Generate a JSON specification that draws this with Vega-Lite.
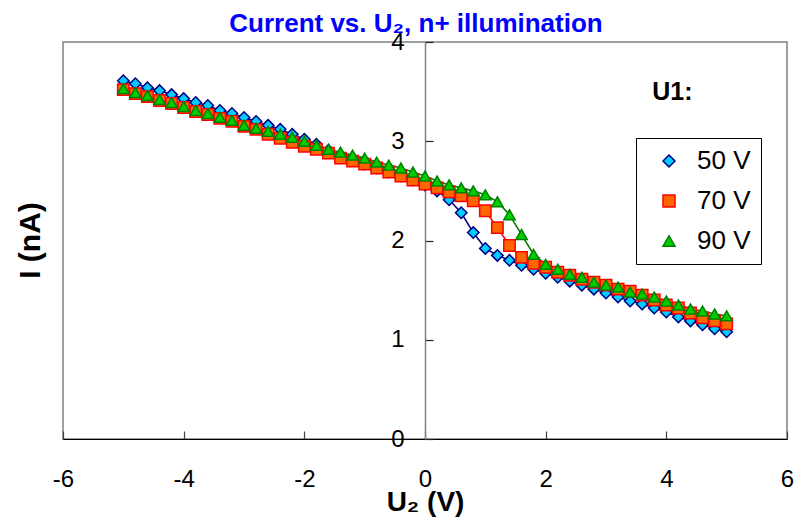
{
  "$schema": "https://vega.github.io/schema/vega-lite/v6.json",
  "width": 724,
  "height": 397,
  "autosize": {"type": "none"},
  "padding": {"left": 63, "top": 42, "right": 10, "bottom": 79},
  "title": {
    "text": "Current vs. U₂, n+ illumination",
    "color": "#0000FF",
    "fontSize": 26,
    "fontWeight": "bold",
    "font": "Liberation Sans",
    "anchor": "middle",
    "frame": "group",
    "offset": -7,
    "dx": -9
  },
  "data": {
    "values": [
      {"u": -5.0, "s": "50 V", "i": 3.61}, {"u": -4.8, "s": "50 V", "i": 3.58}, {"u": -4.6, "s": "50 V", "i": 3.54}, {"u": -4.4, "s": "50 V", "i": 3.51}, {"u": -4.2, "s": "50 V", "i": 3.47}, {"u": -4.0, "s": "50 V", "i": 3.43}, {"u": -3.8, "s": "50 V", "i": 3.39}, {"u": -3.6, "s": "50 V", "i": 3.36}, {"u": -3.4, "s": "50 V", "i": 3.31}, {"u": -3.2, "s": "50 V", "i": 3.28}, {"u": -3.0, "s": "50 V", "i": 3.24}, {"u": -2.8, "s": "50 V", "i": 3.20}, {"u": -2.6, "s": "50 V", "i": 3.16}, {"u": -2.4, "s": "50 V", "i": 3.12}, {"u": -2.2, "s": "50 V", "i": 3.07}, {"u": -2.0, "s": "50 V", "i": 3.02}, {"u": -1.8, "s": "50 V", "i": 2.97}, {"u": -1.6, "s": "50 V", "i": 2.91}, {"u": -1.4, "s": "50 V", "i": 2.85}, {"u": -1.2, "s": "50 V", "i": 2.81}, {"u": -1.0, "s": "50 V", "i": 2.77}, {"u": -0.8, "s": "50 V", "i": 2.73}, {"u": -0.6, "s": "50 V", "i": 2.69}, {"u": -0.4, "s": "50 V", "i": 2.65}, {"u": -0.2, "s": "50 V", "i": 2.61}, {"u": 0.0, "s": "50 V", "i": 2.56},
      {"u": 0.2, "s": "50 V", "i": 2.50}, {"u": 0.4, "s": "50 V", "i": 2.41}, {"u": 0.6, "s": "50 V", "i": 2.28}, {"u": 0.8, "s": "50 V", "i": 2.08}, {"u": 1.0, "s": "50 V", "i": 1.92}, {"u": 1.2, "s": "50 V", "i": 1.85}, {"u": 1.4, "s": "50 V", "i": 1.80}, {"u": 1.6, "s": "50 V", "i": 1.75}, {"u": 1.8, "s": "50 V", "i": 1.71}, {"u": 2.0, "s": "50 V", "i": 1.67}, {"u": 2.2, "s": "50 V", "i": 1.63}, {"u": 2.4, "s": "50 V", "i": 1.59}, {"u": 2.6, "s": "50 V", "i": 1.55}, {"u": 2.8, "s": "50 V", "i": 1.51}, {"u": 3.0, "s": "50 V", "i": 1.47}, {"u": 3.2, "s": "50 V", "i": 1.43}, {"u": 3.4, "s": "50 V", "i": 1.39}, {"u": 3.6, "s": "50 V", "i": 1.36}, {"u": 3.8, "s": "50 V", "i": 1.32}, {"u": 4.0, "s": "50 V", "i": 1.28}, {"u": 4.2, "s": "50 V", "i": 1.23}, {"u": 4.4, "s": "50 V", "i": 1.19}, {"u": 4.6, "s": "50 V", "i": 1.15}, {"u": 4.8, "s": "50 V", "i": 1.11}, {"u": 5.0, "s": "50 V", "i": 1.08},
      {"u": -5.0, "s": "70 V", "i": 3.52}, {"u": -4.8, "s": "70 V", "i": 3.48}, {"u": -4.6, "s": "70 V", "i": 3.45}, {"u": -4.4, "s": "70 V", "i": 3.41}, {"u": -4.2, "s": "70 V", "i": 3.38}, {"u": -4.0, "s": "70 V", "i": 3.34}, {"u": -3.8, "s": "70 V", "i": 3.30}, {"u": -3.6, "s": "70 V", "i": 3.27}, {"u": -3.4, "s": "70 V", "i": 3.23}, {"u": -3.2, "s": "70 V", "i": 3.20}, {"u": -3.0, "s": "70 V", "i": 3.15}, {"u": -2.8, "s": "70 V", "i": 3.12}, {"u": -2.6, "s": "70 V", "i": 3.07}, {"u": -2.4, "s": "70 V", "i": 3.03}, {"u": -2.2, "s": "70 V", "i": 2.99}, {"u": -2.0, "s": "70 V", "i": 2.95}, {"u": -1.8, "s": "70 V", "i": 2.92}, {"u": -1.6, "s": "70 V", "i": 2.88}, {"u": -1.4, "s": "70 V", "i": 2.83}, {"u": -1.2, "s": "70 V", "i": 2.80}, {"u": -1.0, "s": "70 V", "i": 2.77}, {"u": -0.8, "s": "70 V", "i": 2.73}, {"u": -0.6, "s": "70 V", "i": 2.69}, {"u": -0.4, "s": "70 V", "i": 2.65}, {"u": -0.2, "s": "70 V", "i": 2.61}, {"u": 0.0, "s": "70 V", "i": 2.57},
      {"u": 0.2, "s": "70 V", "i": 2.53}, {"u": 0.4, "s": "70 V", "i": 2.49}, {"u": 0.6, "s": "70 V", "i": 2.45}, {"u": 0.8, "s": "70 V", "i": 2.40}, {"u": 1.0, "s": "70 V", "i": 2.30}, {"u": 1.2, "s": "70 V", "i": 2.13}, {"u": 1.4, "s": "70 V", "i": 1.95}, {"u": 1.6, "s": "70 V", "i": 1.83}, {"u": 1.8, "s": "70 V", "i": 1.77}, {"u": 2.0, "s": "70 V", "i": 1.73}, {"u": 2.2, "s": "70 V", "i": 1.68}, {"u": 2.4, "s": "70 V", "i": 1.65}, {"u": 2.6, "s": "70 V", "i": 1.61}, {"u": 2.8, "s": "70 V", "i": 1.58}, {"u": 3.0, "s": "70 V", "i": 1.55}, {"u": 3.2, "s": "70 V", "i": 1.51}, {"u": 3.4, "s": "70 V", "i": 1.49}, {"u": 3.6, "s": "70 V", "i": 1.45}, {"u": 3.8, "s": "70 V", "i": 1.40}, {"u": 4.0, "s": "70 V", "i": 1.35}, {"u": 4.2, "s": "70 V", "i": 1.32}, {"u": 4.4, "s": "70 V", "i": 1.27}, {"u": 4.6, "s": "70 V", "i": 1.22}, {"u": 4.8, "s": "70 V", "i": 1.19}, {"u": 5.0, "s": "70 V", "i": 1.16},
      {"u": -5.0, "s": "90 V", "i": 3.53}, {"u": -4.8, "s": "90 V", "i": 3.49}, {"u": -4.6, "s": "90 V", "i": 3.46}, {"u": -4.4, "s": "90 V", "i": 3.42}, {"u": -4.2, "s": "90 V", "i": 3.39}, {"u": -4.0, "s": "90 V", "i": 3.35}, {"u": -3.8, "s": "90 V", "i": 3.31}, {"u": -3.6, "s": "90 V", "i": 3.28}, {"u": -3.4, "s": "90 V", "i": 3.24}, {"u": -3.2, "s": "90 V", "i": 3.21}, {"u": -3.0, "s": "90 V", "i": 3.16}, {"u": -2.8, "s": "90 V", "i": 3.13}, {"u": -2.6, "s": "90 V", "i": 3.10}, {"u": -2.4, "s": "90 V", "i": 3.07}, {"u": -2.2, "s": "90 V", "i": 3.04}, {"u": -2.0, "s": "90 V", "i": 3.00}, {"u": -1.8, "s": "90 V", "i": 2.96}, {"u": -1.6, "s": "90 V", "i": 2.92}, {"u": -1.4, "s": "90 V", "i": 2.89}, {"u": -1.2, "s": "90 V", "i": 2.86}, {"u": -1.0, "s": "90 V", "i": 2.83}, {"u": -0.8, "s": "90 V", "i": 2.79}, {"u": -0.6, "s": "90 V", "i": 2.76}, {"u": -0.4, "s": "90 V", "i": 2.73}, {"u": -0.2, "s": "90 V", "i": 2.69}, {"u": 0.0, "s": "90 V", "i": 2.65},
      {"u": 0.2, "s": "90 V", "i": 2.60}, {"u": 0.4, "s": "90 V", "i": 2.56}, {"u": 0.6, "s": "90 V", "i": 2.53}, {"u": 0.8, "s": "90 V", "i": 2.50}, {"u": 1.0, "s": "90 V", "i": 2.46}, {"u": 1.2, "s": "90 V", "i": 2.39}, {"u": 1.4, "s": "90 V", "i": 2.26}, {"u": 1.6, "s": "90 V", "i": 2.06}, {"u": 1.8, "s": "90 V", "i": 1.86}, {"u": 2.0, "s": "90 V", "i": 1.76}, {"u": 2.2, "s": "90 V", "i": 1.71}, {"u": 2.4, "s": "90 V", "i": 1.66}, {"u": 2.6, "s": "90 V", "i": 1.63}, {"u": 2.8, "s": "90 V", "i": 1.58}, {"u": 3.0, "s": "90 V", "i": 1.55}, {"u": 3.2, "s": "90 V", "i": 1.53}, {"u": 3.4, "s": "90 V", "i": 1.48}, {"u": 3.6, "s": "90 V", "i": 1.46}, {"u": 3.8, "s": "90 V", "i": 1.43}, {"u": 4.0, "s": "90 V", "i": 1.39}, {"u": 4.2, "s": "90 V", "i": 1.35}, {"u": 4.4, "s": "90 V", "i": 1.31}, {"u": 4.6, "s": "90 V", "i": 1.29}, {"u": 4.8, "s": "90 V", "i": 1.26}, {"u": 5.0, "s": "90 V", "i": 1.24}
    ]
  },
  "encoding": {
    "x": {
      "field": "u", "type": "quantitative",
      "scale": {"domain": [-6, 6], "nice": false, "zero": false},
      "axis": {
        "title": "U₂ (V)",
        "values": [-6, -4, -2, 0, 2, 4, 6],
        "labelExpr": "'' + datum.value",
        "grid": false,
        "domainColor": "#000000", "domainWidth": 1.2,
        "tickColor": "#404040", "tickWidth": 1.2, "tickSize": -8,
        "labelPadding": 36, "labelFontSize": 24, "labelFont": "Liberation Sans", "labelColor": "#000000",
        "labelFlush": false, "labelOverlap": false,
        "titleFontSize": 28, "titleFont": "Liberation Sans", "titleFontWeight": "bold", "titleColor": "#000000",
        "titleY": 63, "titleBaseline": "middle"
      }
    },
    "y": {
      "field": "i", "type": "quantitative",
      "scale": {"domain": [0, 4], "nice": false},
      "axis": {
        "title": "I (nA)",
        "values": [0, 1, 2, 3, 4],
        "grid": false,
        "offset": -362,
        "domainColor": "#808080", "domainWidth": 1.5,
        "tickColor": "#202020", "tickWidth": 1.2, "tickSize": -8,
        "labelPadding": 29, "labelFontSize": 24, "labelFont": "Liberation Sans", "labelColor": "#000000",
        "labelFlush": false, "labelOverlap": false,
        "titleFontSize": 30, "titleFont": "Liberation Sans", "titleFontWeight": "bold", "titleColor": "#000000",
        "titleX": -395, "titleY": 198, "titleAngle": -90, "titleAlign": "center", "titleBaseline": "middle"
      }
    }
  },
  "layer": [
    {
      "mark": {"type": "line", "strokeWidth": 1.6},
      "encoding": {
        "stroke": {
          "field": "s", "type": "nominal",
          "scale": {"domain": ["50 V", "70 V", "90 V"], "range": ["#000080", "#FF0000", "#008000"]},
          "legend": {
            "encode": {
              "symbols": {
                "update": {
                  "shape": {"signal": "datum.value === '50 V' ? 'M-3.7,0H-1M1,0H3.7M-1,0L0,-1L1,0L0,1Z' : datum.value === '70 V' ? 'M-3.7,0H-0.85M0.85,0H3.7M-0.85,-0.85H0.85V0.85H-0.85Z' : 'M-3.7,0H-0.53M0.53,0H3.7M0,-0.9L1,0.8H-1Z'"},
                  "strokeWidth": {"value": 1.5}
                }
              }
            }
          }
        }
      }
    },
    {
      "mark": {"type": "point", "filled": true, "strokeWidth": 1.5, "opacity": 1},
      "encoding": {
        "fill": {
          "field": "s", "type": "nominal",
          "scale": {"domain": ["50 V", "70 V", "90 V"], "range": ["#00CCFF", "#FF6600", "#00CC00"]},
          "legend": {
            "encode": {
              "symbols": {
                "update": {
                  "shape": {"signal": "datum.value === '50 V' ? 'M-3.7,0H-1M1,0H3.7M-1,0L0,-1L1,0L0,1Z' : datum.value === '70 V' ? 'M-3.7,0H-0.85M0.85,0H3.7M-0.85,-0.85H0.85V0.85H-0.85Z' : 'M-3.7,0H-0.53M0.53,0H3.7M0,-0.9L1,0.8H-1Z'"},
                  "strokeWidth": {"value": 1.5}
                }
              }
            }
          }
        },
        "stroke": {
          "field": "s", "type": "nominal",
          "scale": {"domain": ["50 V", "70 V", "90 V"], "range": ["#000080", "#FF0000", "#008000"]},
          "legend": {
            "encode": {
              "symbols": {
                "update": {
                  "shape": {"signal": "datum.value === '50 V' ? 'M-3.7,0H-1M1,0H3.7M-1,0L0,-1L1,0L0,1Z' : datum.value === '70 V' ? 'M-3.7,0H-0.85M0.85,0H3.7M-0.85,-0.85H0.85V0.85H-0.85Z' : 'M-3.7,0H-0.53M0.53,0H3.7M0,-0.9L1,0.8H-1Z'"},
                  "strokeWidth": {"value": 1.5}
                }
              }
            }
          }
        },
        "shape": {
          "field": "s", "type": "nominal",
          "scale": {"domain": ["50 V", "70 V", "90 V"], "range": ["diamond", "square", "triangle-up"]},
          "legend": {
            "encode": {
              "symbols": {
                "update": {
                  "shape": {"signal": "datum.value === '50 V' ? 'M-3.7,0H-1M1,0H3.7M-1,0L0,-1L1,0L0,1Z' : datum.value === '70 V' ? 'M-3.7,0H-0.85M0.85,0H3.7M-0.85,-0.85H0.85V0.85H-0.85Z' : 'M-3.7,0H-0.53M0.53,0H3.7M0,-0.9L1,0.8H-1Z'"},
                  "strokeWidth": {"value": 1.5}
                }
              }
            }
          }
        }
      }
    },
    {
      "transform": [{"filter": "datum.u === 5 && datum.s === '50 V'"}],
      "mark": {"type": "text", "fontSize": 25, "fontWeight": "bold", "font": "Liberation Sans", "align": "center", "baseline": "middle", "color": "#000000"},
      "encoding": {
        "x": {"datum": 4.1, "type": "quantitative"},
        "y": {"datum": 3.5, "type": "quantitative"},
        "text": {"value": "U1:"}
      }
    }
  ],
  "config": {
    "font": "Liberation Sans",
    "view": {"stroke": "#808080", "strokeWidth": 1.5},
    "point": {"size": 130},
    "legend": {
      "title": null,
      "orient": "none", "legendX": 573, "legendY": 96,
      "padding": 10, "strokeColor": "#000000", "fillColor": "#ffffff",
      "symbolSize": 144, "symbolStrokeWidth": 1.5,
      "symbolOffset": 10, "labelOffset": 15,
      "labelFontSize": 26, "labelFont": "Liberation Sans", "labelColor": "#000000",
      "rowPadding": 14
    },
    "background": "#ffffff"
  }
}
